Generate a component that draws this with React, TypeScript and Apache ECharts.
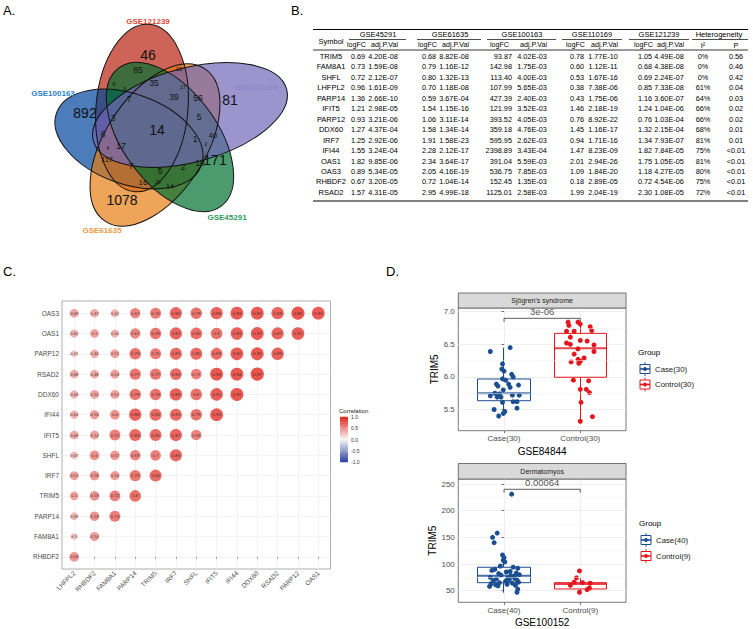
import React, { useEffect, useRef } from "react";
import * as echarts from "echarts";

const FONT = "'Liberation Sans', Arial, Helvetica, sans-serif";

// ---------------- A. Venn diagram data ----------------
const vennSetNames = ["GSE121239", "GSE100163", "GSE61635", "GSE45291", "GSE110169"];
const vennRegionCounts = [
  46, 892, 1078, 171, 81, 14, 85, 10, 35, 39, 56, 17, 6, 9, 7, 3, 5, 8, 1, 40, 2, 4, 17, 117, 7, 5, 2, 10, 16, 26, 14,
];

// ---------------- B. Table data ----------------
const tblSymbols = ["TRIM5", "FAM8A1", "SHFL", "LHFPL2", "PARP14", "IFIT5", "PARP12", "DDX60", "IRF7", "IFI44", "OAS1", "OAS3", "RHBDF2", "RSAD2"];
const gse45291FC = [0.69, 0.73, 0.72, 0.96, 1.36, 1.21, 0.93, 1.27, 1.25, 1.55, 1.82, 0.89, 0.67, 1.57];
const gse45291P = ["4.20E-08", "1.59E-08", "2.12E-07", "1.61E-09", "2.66E-10", "2.98E-05", "3.21E-06", "4.37E-04", "2.92E-06", "3.24E-04", "9.85E-06", "5.34E-05", "3.20E-05", "4.31E-05"];
const gse61635FC = [0.68, 0.79, 0.8, 0.7, 0.59, 1.54, 1.06, 1.58, 1.91, 2.28, 2.34, 2.05, 0.72, 2.95];
const gse61635P = ["8.82E-08", "1.16E-12", "1.32E-13", "1.18E-08", "3.67E-04", "1.15E-16", "3.11E-14", "1.34E-14", "1.58E-23", "2.12E-17", "3.64E-17", "4.16E-19", "1.04E-14", "4.99E-18"];
const gse100163FC = [93.87, 142.98, 113.4, 107.99, 427.39, 121.99, 393.52, 359.18, 595.95, 2398.89, 391.04, 536.75, 152.45, 1125.01];
const gse100163P = ["4.02E-03", "1.75E-03", "4.00E-03", "5.65E-03", "2.40E-03", "3.52E-03", "4.05E-03", "4.76E-03", "2.62E-03", "3.43E-04", "5.59E-03", "7.85E-03", "1.35E-03", "2.58E-03"];
const gse110169FC = [0.78, 0.6, 0.53, 0.38, 0.43, 1.46, 0.76, 1.45, 0.94, 1.47, 2.01, 1.09, 0.18, 1.99];
const gse110169P = ["1.77E-10", "1.12E-11", "1.67E-16", "7.38E-06", "1.75E-06", "2.18E-19", "8.92E-22", "1.16E-17", "1.71E-16", "8.23E-09", "2.94E-26", "1.84E-20", "2.89E-05", "2.04E-19"];
const gse121239FC = [1.05, 0.68, 0.69, 0.85, 1.16, 1.24, 0.76, 1.32, 1.34, 1.82, 1.75, 1.18, 0.72, 2.3];
const gse121239P = ["4.49E-08", "4.38E-08", "2.24E-07", "7.33E-08", "3.60E-07", "1.04E-06", "1.03E-04", "2.15E-04", "7.93E-07", "7.84E-05", "1.05E-05", "4.27E-05", "4.54E-06", "1.08E-05"];
const hetI2 = ["0%", "0%", "0%", "61%", "64%", "66%", "66%", "68%", "81%", "75%", "81%", "80%", "75%", "72%"];
const hetP = ["0.56", "0.46", "0.42", "0.04", "0.03", "0.02", "0.02", "0.01", "0.01", "<0.01", "<0.01", "<0.01", "<0.01", "<0.01"];

// ---------------- C. Correlation data ----------------
const corrCols = ["LHFPL2", "RHBDF2", "FAM8A1", "PARP14", "TRIM5", "IRF7", "SHFL", "IFIT5", "IFI44", "DDX60", "RSAD2", "PARP12", "OAS1"];
const corrRows = ["RHBDF2", "FAM8A1", "PARP14", "TRIM5", "IRF7", "SHFL", "IFIT5", "IFI44", "DDX60", "RSAD2", "PARP12", "OAS1", "OAS3"];
const corrRHBDF2 = [0.58];
const corrFAM8A1 = [0.3, 0.54];
const corrPARP14 = [0.39, 0.59, 0.73];
const corrTRIM5 = [0.5, 0.59, 0.72, 0.8];
const corrIRF7 = [0.52, 0.58, 0.54, 0.76, 0.84];
const corrSHFL = [0.37, 0.6, 0.57, 0.69, 0.7, 0.86];
const corrIFIT5 = [0.48, 0.52, 0.72, 0.84, 0.83, 0.87, 0.69];
const corrIFI44 = [0.44, 0.54, 0.6, 0.88, 0.84, 0.85, 0.79, 0.93];
const corrDDX60 = [0.43, 0.51, 0.52, 0.78, 0.79, 0.89, 0.8, 0.91, 0.95];
const corrRSAD2 = [0.48, 0.48, 0.53, 0.77, 0.77, 0.83, 0.71, 0.94, 0.94, 0.97];
const corrPARP12 = [0.31, 0.46, 0.51, 0.79, 0.75, 0.85, 0.85, 0.83, 0.92, 0.93, 0.89];
const corrOAS1 = [0.42, 0.5, 0.42, 0.67, 0.78, 0.87, 0.82, 0.8, 0.89, 0.93, 0.87, 0.91];
const corrOAS3 = [0.49, 0.47, 0.42, 0.67, 0.74, 0.86, 0.79, 0.88, 0.93, 0.93, 0.88, 0.96, 0.93];
const corrLegendTicks = [1.0, 0.5, 0.0, -0.5, -1.0];

// ---------------- D. Boxplot data ----------------
const sjsGroups = ["Case(30)", "Control(30)"];
const sjsBox = [
  [5.4, 5.635, 5.748, 5.968, 6.45],
  [5.324, 5.995, 6.44, 6.668, 6.837],
]; // min, Q1, median, Q3, max
const sjsCaseVals = [6.39, 6.45, 6.2, 6.12, 6.09, 6.0, 6.04, 5.97, 5.95, 5.89, 5.875, 5.89, 5.86, 5.84, 5.8, 5.71, 5.75, 5.74, 5.72, 5.72, 5.69, 5.62, 5.62, 5.61, 5.5, 5.52, 5.47, 5.44, 5.4, 5.69];
const sjsCaseJitter = [-0.18, 0.08, -0.02, -0.03, 0.0, 0.12, 0.1, -0.02, 0.02, -0.1, 0.19, 0.06, -0.08, 0.08, -0.01, -0.18, -0.12, -0.06, 0.11, 0.2, -0.04, 0.12, 0.17, -0.02, -0.13, 0.17, 0.01, -0.01, -0.07, -0.09];
const sjsCtrlVals = [6.84, 6.84, 6.81, 6.79, 6.77, 6.7, 6.7, 6.71, 6.61, 6.56, 6.55, 6.52, 6.5, 6.49, 6.43, 6.39, 6.35, 6.29, 6.27, 6.24, 6.23, 6.21, 5.95, 5.94, 5.81, 5.81, 5.76, 5.61, 5.39, 5.32];
const sjsCtrlJitter = [-0.16, -0.03, 0.0, -0.15, 0.13, -0.18, -0.08, 0.15, -0.13, 0.0, 0.09, -0.18, -0.13, 0.18, -0.03, 0.18, -0.08, 0.05, -0.03, 0.0, -0.12, -0.02, -0.09, 0.11, 0.0, 0.08, 0.12, 0.01, 0.16, 0.0];
const sjsPval = "3e-06";
const sjsTicks = [5.5, 6.0, 6.5, 7.0];
const sjsMinor = [5.25, 5.75, 6.25, 6.75];

const dmGroups = ["Case(40)", "Control(9)"];
const dmBox = [
  [46.3, 65, 78.2, 93.9, 117],
  [48, 53.2, 62.6, 65, 73.2],
];
const dmCaseVals = [231, 158, 150, 140, 117, 112, 107, 104, 96, 94, 92, 90, 88, 86, 85, 83, 82, 80, 79, 78, 77, 75, 74, 73, 72, 71, 70, 69, 68, 66, 65, 64, 63, 62, 61, 60, 59, 58, 53, 47];
const dmCaseJitter = [0.1, -0.09, -0.15, -0.13, -0.02, 0.0, -0.01, 0.01, -0.05, 0.12, 0.18, -0.12, -0.16, 0.08, 0.03, 0.16, -0.07, 0.2, -0.04, 0.09, 0.13, -0.18, 0.05, 0.14, -0.1, 0.07, 0.17, -0.14, 0.02, 0.19, -0.06, 0.11, -0.17, 0.04, -0.11, 0.15, -0.08, -0.19, 0.18, 0.17];
const dmCtrlVals = [87, 74, 66, 65, 64, 60, 55, 52, 47];
const dmCtrlJitter = [-0.01, -0.05, -0.08, 0.03, 0.13, -0.13, 0.12, 0.09, -0.01];
const dmPval = "0.00064";
const dmTicks = [50, 100, 150, 200, 250];
const dmMinor = [75, 125, 175, 225];

// ---------------- styling ----------------
const CASE_C = "#1c4e92";
const CTRL_C = "#e3161d";

function txt(x: number, y: number, text: string, size: number, o: any = {}) {
  const align = o.align || "center";
  const va = o.va || "middle";
  return {
    type: "text",
    x,
    y,
    silent: true,
    rotation: o.rotation || 0,
    z: o.z || 10,
    style: {
      text,
      fontSize: size,
      fontFamily: FONT,
      fontWeight: o.weight || "normal",
      fill: o.color || "#000",
      align,
      textAlign: align,
      verticalAlign: va,
      textVerticalAlign: va,
    },
  };
}
function ln(x1: number, y1: number, x2: number, y2: number, w = 1, c = "#000") {
  return { type: "line", silent: true, z: 10, shape: { x1, y1, x2, y2 }, style: { stroke: c, lineWidth: w } };
}

function buildGraphics() {
  const g: any[] = [];
  // panel letters
  g.push(txt(3, 10, "A.", 13, { align: "left" }));
  g.push(txt(291, 10, "B.", 13, { align: "left" }));
  g.push(txt(3, 271, "C.", 13, { align: "left" }));
  g.push(txt(386, 271, "D.", 13, { align: "left" }));

  // ---- Venn
  const ell = [
    { cx: 142, cy: 108, a: 84, b: 46, deg: 85, fill: "rgba(184,34,15,0.7)" },
    { cx: 129, cy: 139, a: 77, b: 45, deg: 160, fill: "rgba(0,69,155,0.7)" },
    { cx: 155, cy: 145, a: 91, b: 50, deg: 237, fill: "rgba(231,126,19,0.7)" },
    { cx: 170, cy: 137, a: 86, b: 47, deg: -53.5, fill: "rgba(0,112,48,0.7)" },
    { cx: 190, cy: 115, a: 100, b: 47, deg: 15, fill: "rgba(112,102,184,0.7)" },
  ];
  ell.forEach((e) =>
    g.push({
      type: "ellipse",
      silent: true,
      z: 5,
      x: e.cx,
      y: e.cy,
      rotation: (e.deg * Math.PI) / 180,
      shape: { cx: 0, cy: 0, rx: e.a, ry: e.b },
      style: { fill: e.fill, stroke: "none" },
    })
  );
  ell.forEach((e) =>
    g.push({
      type: "ellipse",
      silent: true,
      z: 6,
      x: e.cx,
      y: e.cy,
      rotation: (e.deg * Math.PI) / 180,
      shape: { cx: 0, cy: 0, rx: e.a, ry: e.b },
      style: { fill: "none", stroke: "#111", lineWidth: 1 },
    })
  );
  const setPos = [
    [148, 21, "#d9493a"],
    [53, 93, "#2b7fc2"],
    [102, 230, "#ee9a3f"],
    [227, 217, "#2e9a5c"],
    [256, 87, "#8f88c9"],
  ];
  vennSetNames.forEach((n, i) =>
    g.push(txt(setPos[i][0] as number, setPos[i][1] as number, n, 8, { color: setPos[i][2], weight: "bold", z: 12 }))
  );
  const regionPos = [
    [148, 55, 14], [85, 113, 14], [122, 200, 14], [215, 160, 14], [230, 100, 14], [157, 130, 14],
    [138, 70, 8.5], [179, 69, 6], [154, 83, 8.5], [174, 97, 8.5], [198, 98, 8.5], [183, 87, 5],
    [114, 84, 6], [125, 89, 5], [129, 99, 8.5], [113, 118, 8.5], [199, 117, 8.5], [103, 134, 8.5],
    [195, 139, 8.5], [213, 135, 7.5], [206, 144, 5], [108, 148, 5], [121, 146, 8.5], [107, 159, 7.5],
    [131, 166, 8.5], [160, 171, 8.5], [183, 167, 8.5], [200, 163, 8.5], [143, 182, 8], [158, 182, 5], [170, 186, 7],
  ];
  vennRegionCounts.forEach((c, i) =>
    g.push(txt(regionPos[i][0], regionPos[i][1], String(c), regionPos[i][2], { color: "#111", z: 12 }))
  );

  // ---- Table
  const L = 313, R = 748;
  g.push(ln(L, 29.5, R, 29.5, 1));
  g.push(ln(L, 50, R, 50, 0.8));
  g.push(ln(L, 201, R, 201, 1));
  const rowY0 = 56.5, rowH = 10.45;
  g.push(txt(331, 41, "Symbol", 7.5));
  const groups = [
    { name: "GSE45291", fc: gse45291FC, p: gse45291P },
    { name: "GSE61635", fc: gse61635FC, p: gse61635P },
    { name: "GSE100163", fc: gse100163FC, p: gse100163P },
    { name: "GSE110169", fc: gse110169FC, p: gse110169P },
    { name: "GSE121239", fc: gse121239FC, p: gse121239P },
  ];
  const glay = [
    { fc: 358, p: 383, hdr: 378, u0: 349, u1: 406, right: false },
    { fc: 429, p: 454, hdr: 450, u0: 417, u1: 481, right: false },
    { fc: 512, p: 532, hdr: 522, u0: 487, u1: 556, right: true },
    { fc: 577, p: 603, hdr: 592, u0: 562, u1: 622, right: false },
    { fc: 645, p: 669, hdr: 659, u0: 629, u1: 689, right: false },
  ];
  groups.forEach((gr, k) => {
    const lay = glay[k];
    g.push(txt(lay.hdr, 34, gr.name, 7.5));
    g.push(ln(lay.u0, 39.5, lay.u1, 39.5, 0.7));
    g.push(txt((lay.right ? lay.fc - 11 : lay.fc) - 1.5, 45, "logFC", 7.1));
    g.push(txt(lay.p + 1.5, 45, "adj.P.Val", 7.1));
    gr.fc.forEach((v, i) =>
      g.push(txt(lay.fc, rowY0 + i * rowH, v.toFixed(2), 7.3, { align: lay.right ? "right" : "center" }))
    );
    gr.p.forEach((v, i) => g.push(txt(lay.p, rowY0 + i * rowH, v, 7.3)));
  });
  g.push(txt(719, 34, "Heterogeneity", 7.5));
  g.push(ln(692, 39.5, 748, 39.5, 0.7));
  g.push(txt(703, 45, "I²", 7.3));
  g.push(txt(736, 45, "P", 7.3));
  tblSymbols.forEach((s, i) => g.push(txt(331, rowY0 + i * rowH, s, 7.5)));
  hetI2.forEach((s, i) => g.push(txt(703, rowY0 + i * rowH, s, 7.3)));
  hetP.forEach((s, i) => g.push(txt(736, rowY0 + i * rowH, s, 7.3)));

  // ---- Correlation legend
  g.push(txt(339, 411, "Correlation", 6, { align: "left", color: "#222" }));
  const barTop = 416.7, barH = 45.6;
  g.push({
    type: "rect",
    silent: true,
    z: 10,
    shape: { x: 340, y: barTop, width: 8, height: barH },
    style: {
      fill: new echarts.graphic.LinearGradient(0, 0, 0, 1, [
        { offset: 0, color: "#e2231a" },
        { offset: 0.5, color: "#f7f7f7" },
        { offset: 1, color: "#2c3f9e" },
      ]),
    },
  });
  corrLegendTicks.forEach((t) => {
    const y = barTop + ((1 - t) / 2) * barH;
    g.push(txt(351, y, t.toFixed(1), 5, { align: "left", color: "#333" }));
    g.push(ln(340, y, 341.6, y, 0.5, "#fff"));
    g.push(ln(346.4, y, 348, y, 0.5, "#fff"));
  });

  // ---- Strips for D
  const strip = (y: number, h: number, label: string) => {
    g.push({
      type: "rect",
      silent: true,
      z: 10,
      shape: { x: 458.3, y, width: 167.7, height: h },
      style: { fill: "#d9d9d9", stroke: "#555", lineWidth: 0.8 },
    });
    g.push(txt(458.3 + 167.7 / 2, y + h / 2, label, 7, { color: "#1a1a1a" }));
  };
  strip(293, 15, "Sjögren's syndrome");
  strip(463.5, 15.5, "Dermatomyos");

  // ---- Legends for D
  const legend = (x: number, yTitle: number, ys: number[], labels: string[]) => {
    g.push(txt(x, yTitle, "Group", 8, { align: "left" }));
    const cols = [CASE_C, CTRL_C];
    ys.forEach((y, i) => {
      const cx = x + 7;
      g.push(ln(cx, y - 7, cx, y + 7, 0.9, cols[i]));
      g.push({
        type: "rect",
        silent: true,
        z: 11,
        shape: { x: cx - 5, y: y - 4.5, width: 10, height: 9 },
        style: { fill: "#fff", stroke: cols[i], lineWidth: 1 },
      });
      g.push({ ...ln(cx - 5, y, cx + 5, y, 1.6, cols[i]), z: 12 });
      g.push({ type: "circle", silent: true, z: 13, shape: { cx, cy: y, r: 1.9 }, style: { fill: cols[i] } });
      g.push(txt(x + 17, y, labels[i], 7.8, { align: "left", color: "#222" }));
    });
  };
  legend(638, 352, [369, 384.5], sjsGroups);
  legend(639, 523.5, [540, 556], dmGroups);
  return g;
}

function buildOption() {
  const corrMatrix = [corrRHBDF2, corrFAM8A1, corrPARP14, corrTRIM5, corrIRF7, corrSHFL, corrIFIT5, corrIFI44, corrDDX60, corrRSAD2, corrPARP12, corrOAS1, corrOAS3];
  const corrData: number[][] = [];
  corrMatrix.forEach((row, r) => row.forEach((v, c) => corrData.push([c, r, v])));
  const idx13 = corrCols.map((_, i) => i);

  const labelGray = "#4d4d4d";
  const grid = [
    { left: 62, top: 301, width: 268.5, height: 268, show: true, borderColor: "#9a9a9a", borderWidth: 0.8 },
    { left: 458.3, top: 308, width: 167.7, height: 122.7, show: true, borderColor: "#555", borderWidth: 0.8 },
    { left: 458.3, top: 479, width: 167.7, height: 123.3, show: true, borderColor: "#555", borderWidth: 0.8 },
  ];
  const split = { show: true, lineStyle: { color: "#ebebeb", width: 0.8 } };
  const xAxis: any[] = [
    {
      gridIndex: 0, type: "value", min: -0.6, max: 12.6,
      axisLine: { show: false },
      axisTick: { show: true, customValues: idx13, length: 2, lineStyle: { color: "#666", width: 0.6 } },
      axisLabel: { customValues: idx13, formatter: (v: number) => corrCols[Math.round(v)], rotate: 45, fontSize: 6.5, color: labelGray, margin: 3 },
      splitLine: { show: true, lineStyle: { color: "#ebebeb", width: 0.6 } },
    },
    {
      gridIndex: 1, type: "value", min: -0.6, max: 1.6,
      name: "GSE84844", nameLocation: "middle", nameGap: 15.5, nameTextStyle: { fontSize: 10, color: "#000" },
      axisLine: { show: false },
      axisTick: { show: true, customValues: [0, 1], length: 2.5, lineStyle: { color: "#333", width: 0.7 } },
      axisLabel: { customValues: [0, 1], formatter: (v: number) => sjsGroups[Math.round(v)], fontSize: 8, color: labelGray, margin: 4 },
      splitLine: split,
    },
    {
      gridIndex: 2, type: "value", min: -0.6, max: 1.6,
      name: "GSE100152", nameLocation: "middle", nameGap: 15.5, nameTextStyle: { fontSize: 10, color: "#000" },
      axisLine: { show: false },
      axisTick: { show: true, customValues: [0, 1], length: 2.5, lineStyle: { color: "#333", width: 0.7 } },
      axisLabel: { customValues: [0, 1], formatter: (v: number) => dmGroups[Math.round(v)], fontSize: 8, color: labelGray, margin: 4 },
      splitLine: split,
    },
  ];
  const yAxis: any[] = [
    {
      gridIndex: 0, type: "value", min: -0.6, max: 12.6,
      axisLine: { show: false },
      axisTick: { show: true, customValues: idx13, length: 2, lineStyle: { color: "#666", width: 0.6 } },
      axisLabel: { customValues: idx13, formatter: (v: number) => corrRows[Math.round(v)], fontSize: 6.5, color: labelGray, margin: 3 },
      splitLine: { show: true, lineStyle: { color: "#ebebeb", width: 0.6 } },
    },
    {
      gridIndex: 1, type: "value", min: 5.175, max: 7.057,
      name: "TRIM5", nameLocation: "middle", nameGap: 16.5, nameRotate: 90, nameTextStyle: { fontSize: 10, color: "#000" },
      axisLine: { show: false },
      axisTick: { show: true, customValues: sjsTicks, length: 2.5, lineStyle: { color: "#333", width: 0.7 } },
      axisLabel: { customValues: sjsTicks, formatter: (v: number) => v.toFixed(1), fontSize: 8, color: labelGray, margin: 3.5 },
      splitLine: split,
    },
    {
      gridIndex: 2, type: "value", min: 28.2, max: 259.4,
      name: "TRIM5", nameLocation: "middle", nameGap: 19.5, nameRotate: 90, nameTextStyle: { fontSize: 10, color: "#000" },
      axisLine: { show: false },
      axisTick: { show: true, customValues: dmTicks, length: 2.5, lineStyle: { color: "#333", width: 0.7 } },
      axisLabel: { customValues: dmTicks, formatter: (v: number) => String(v), fontSize: 8, color: labelGray, margin: 3.5 },
      splitLine: split,
    },
  ];

  const boxSeries = (ai: number, box: number[][], minor: number[], caseVals: number[], caseJit: number[], ctrlVals: number[], ctrlJit: number[], bracketY: number, bracketTick: number, pval: string) => {
    const cols = [CASE_C, CTRL_C];
    return [
      {
        type: "line", xAxisIndex: ai, yAxisIndex: ai, data: [], z: 0, silent: true,
        markLine: {
          silent: true, symbol: ["none", "none"], label: { show: false },
          lineStyle: { color: "#f3f3f3", width: 0.5, type: "solid" },
          data: minor.map((m) => ({ yAxis: m })),
        },
      },
      {
        type: "candlestick", xAxisIndex: ai, yAxisIndex: ai, barWidth: 53, z: 2, silent: true,
        data: box.map((b, i) => ({
          value: [i, b[1], b[3], b[0], b[4]],
          itemStyle: { color: "#fff", color0: "#fff", borderColor: cols[i], borderColor0: cols[i], borderWidth: 1 },
        })),
      },
      {
        type: "scatter", xAxisIndex: ai, yAxisIndex: ai, symbol: "rect", symbolSize: [53, 2], z: 3, silent: true,
        data: box.map((b, i) => ({ value: [i, b[2]], itemStyle: { color: cols[i] } })),
      },
      {
        type: "scatter", xAxisIndex: ai, yAxisIndex: ai, symbolSize: 5, z: 4, silent: true,
        itemStyle: { color: CASE_C, opacity: 1 },
        data: caseVals.map((v, i) => [0 + caseJit[i], v]),
      },
      {
        type: "scatter", xAxisIndex: ai, yAxisIndex: ai, symbolSize: 5, z: 4, silent: true,
        itemStyle: { color: CTRL_C, opacity: 1 },
        data: ctrlVals.map((v, i) => [1 + ctrlJit[i], v]),
      },
      {
        type: "line", xAxisIndex: ai, yAxisIndex: ai, symbol: "none", z: 4, silent: true,
        lineStyle: { color: "#333", width: 0.8 },
        data: [[0, bracketTick], [0, bracketY], [1, bracketY], [1, bracketTick]],
      },
      {
        type: "scatter", xAxisIndex: ai, yAxisIndex: ai, symbolSize: 1, z: 4, silent: true,
        itemStyle: { color: "transparent" },
        label: { show: true, position: "top", distance: 1, formatter: pval, fontSize: 9.5, color: "#222", fontFamily: FONT },
        data: [[0.5, bracketY]],
      },
    ];
  };

  const series: any[] = [
    {
      type: "scatter", xAxisIndex: 0, yAxisIndex: 0, z: 3, silent: true,
      data: corrData,
      symbolSize: (v: number[]) => 4 + 9.5 * Math.abs(v[2]),
      label: { show: true, position: "inside", formatter: (p: any) => String(p.value[2]), fontSize: 4.3, color: "#1a1a1a", fontFamily: FONT },
    },
    ...boxSeries(1, sjsBox, sjsMinor, sjsCaseVals, sjsCaseJitter, sjsCtrlVals, sjsCtrlJitter, 6.899, 6.847, sjsPval),
    ...boxSeries(2, dmBox, dmMinor, dmCaseVals, dmCaseJitter, dmCtrlVals, dmCtrlJitter, 240.1, 233.7, dmPval),
  ];

  return {
    animation: false,
    backgroundColor: "#ffffff",
    textStyle: { fontFamily: FONT },
    grid,
    xAxis,
    yAxis,
    visualMap: {
      show: false, type: "continuous", seriesIndex: 0, dimension: 2, min: -1, max: 1,
      inRange: { color: ["#2c3f9e", "#f7f7f7", "#e2231a"] },
    },
    series,
    graphic: { elements: buildGraphics() },
  };
}

export default function App() {
  const ref = useRef<HTMLDivElement>(null);
  useEffect(() => {
    if (!ref.current) return;
    const chart = echarts.init(ref.current, undefined, { renderer: "svg" });
    chart.setOption(buildOption() as any);
    return () => chart.dispose();
  }, []);
  return (
    <div
      ref={ref}
      style={{ position: "absolute", left: 0, top: 0, width: 753, height: 629, background: "#fff" }}
    />
  );
}
